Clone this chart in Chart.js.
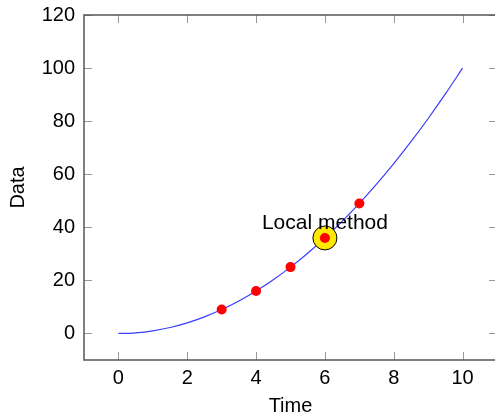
<!DOCTYPE html>
<html>
<head>
<meta charset="utf-8">
<script src="https://cdn.jsdelivr.net/npm/chart.js@4/dist/chart.umd.min.js"></script>
<style>
  html, body { margin: 0; padding: 0; background: #fff; overflow: hidden; }
  #wrap { width: 510px; height: 414px; }
</style>
</head>
<body>
<div id="wrap"><canvas id="c" width="510" height="414"></canvas></div>
<script>
// ---- data ----
const curveX = [0, 0.5, 1, 1.5, 2, 2.5, 3, 3.5, 4, 4.5, 5, 5.5, 6, 6.5, 7, 7.5, 8, 8.5, 9, 9.5, 10];
const curveY = [0, 0.25, 1, 2.25, 4, 6.25, 9, 12.25, 16, 20.25, 25, 30.25, 36, 42.25, 49, 56.25, 64, 72.25, 81, 90.25, 100];
const pointsX = [3, 4, 5, 6, 7];
const pointsY = [9, 16, 25, 36, 49];
const highlightX = [6];
const highlightY = [36];
const labelText = "Local method";
const labelX = 6;
const labelY = 41.5;
const xTicks = [0, 2, 4, 6, 8, 10];
const yTicks = [0, 20, 40, 60, 80, 100, 120];
const xTitle = "Time";
const yTitle = "Data";

const FONT = "'Liberation Sans', Arial, Helvetica, sans-serif";

const framePlugin = {
  id: 'frame',
  beforeDatasetsDraw(chart) {
    const { ctx, chartArea: a, scales: { x, y } } = chart;
    ctx.save();
    ctx.strokeStyle = '#999';
    ctx.lineWidth = 1;
    const tl = 8;
    ctx.beginPath();
    xTicks.forEach(v => {
      const px = Math.round(x.getPixelForValue(v)) + 0.5;
      ctx.moveTo(px, a.bottom); ctx.lineTo(px, a.bottom - tl);
      ctx.moveTo(px, a.top); ctx.lineTo(px, a.top + tl);
    });
    yTicks.forEach(v => {
      const py = Math.round(y.getPixelForValue(v)) + 0.5;
      ctx.moveTo(a.left, py); ctx.lineTo(a.left + tl, py);
      ctx.moveTo(a.right, py); ctx.lineTo(a.right - tl, py);
    });
    ctx.stroke();
    ctx.strokeStyle = '#555';
    ctx.lineWidth = 1.5;
    ctx.strokeRect(a.left, a.top, a.right - a.left, a.bottom - a.top);
    ctx.restore();
  },
  afterDatasetsDraw(chart) {
    const { ctx, scales: { x, y } } = chart;
    ctx.save();
    ctx.font = "21px " + FONT;
    ctx.fillStyle = '#000';
    ctx.textAlign = 'center';
    ctx.textBaseline = 'middle';
    ctx.fillText(labelText, x.getPixelForValue(labelX), y.getPixelForValue(labelY));
    ctx.restore();
  }
};

new Chart(document.getElementById('c'), {
  type: 'scatter',
  data: {
    datasets: [
      {
        label: 'curve',
        type: 'line',
        data: curveX.map((v, i) => ({ x: v, y: curveY[i] })),
        borderColor: '#3c3cff',
        borderWidth: 1.2,
        pointRadius: 0,
        fill: false,
        cubicInterpolationMode: 'monotone',
        order: 3
      },
      {
        label: 'highlight',
        data: highlightX.map((v, i) => ({ x: v, y: highlightY[i] })),
        pointRadius: 12,
        backgroundColor: '#ffe900',
        borderColor: '#000',
        borderWidth: 1,
        order: 2
      },
      {
        label: 'points',
        data: pointsX.map((v, i) => ({ x: v, y: pointsY[i] })),
        pointRadius: 5,
        backgroundColor: '#ff0000',
        borderWidth: 0,
        order: 1
      }
    ]
  },
  options: {
    responsive: false,
    animation: false,
    devicePixelRatio: 1,
    layout: { padding: { top: 15, right: 3, left: 0, bottom: 0 } },
    plugins: { legend: { display: false }, tooltip: { enabled: false } },
    scales: {
      x: {
        type: 'linear',
        min: -1, max: 11,
        afterBuildTicks: s => { s.ticks = xTicks.map(v => ({ value: v })); },
        afterFit: s => { s.height = 54; },
        grid: { display: false, drawTicks: false },
        border: { display: false },
        ticks: { color: '#000', padding: 6, maxRotation: 0, font: { size: 20, family: FONT } },
        title: { display: true, text: xTitle, color: '#000', padding: { top: 0, bottom: -4 }, font: { size: 20, family: FONT } }
      },
      y: {
        type: 'linear',
        min: -10, max: 120,
        afterBuildTicks: s => { s.ticks = yTicks.map(v => ({ value: v })); },
        afterFit: s => { s.width = 84; s.paddingTop = 0; s.paddingBottom = 0; },
        grid: { display: false, drawTicks: false },
        border: { display: false },
        ticks: { color: '#000', padding: 9, font: { size: 20, family: FONT } },
        title: { display: true, text: yTitle, color: '#000', padding: { top: 6, bottom: 0 }, font: { size: 20, family: FONT } }
      }
    }
  },
  plugins: [framePlugin]
});
</script>
</body>
</html>
